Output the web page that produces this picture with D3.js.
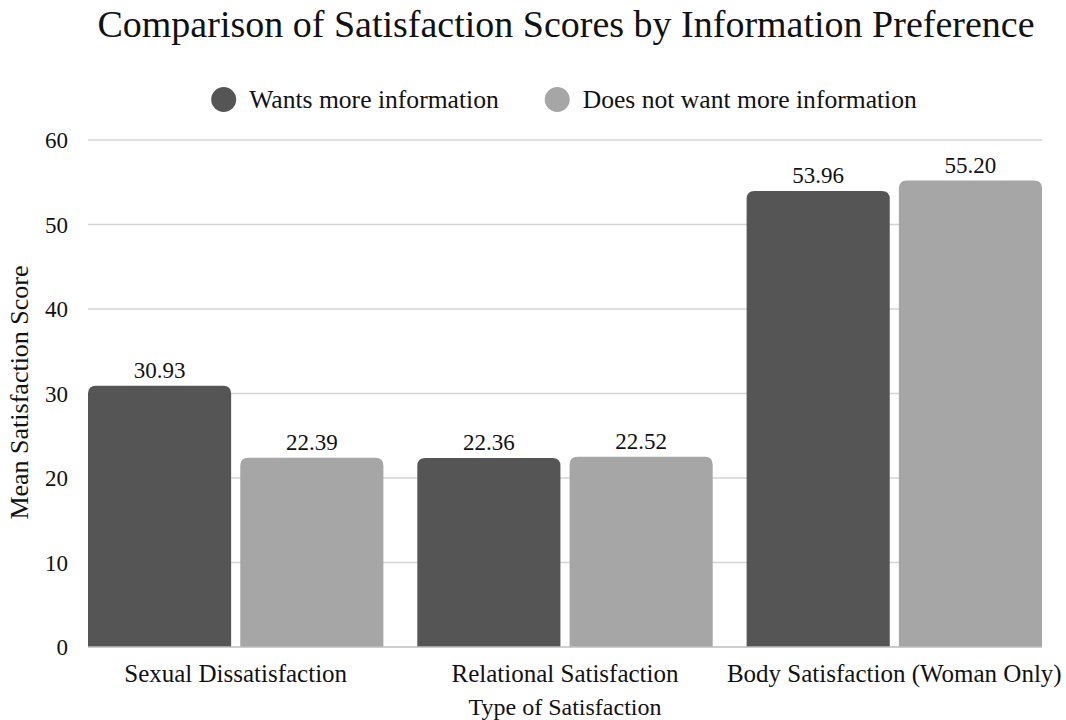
<!DOCTYPE html>
<html>
<head>
<meta charset="utf-8">
<script src="https://cdn.jsdelivr.net/npm/d3@7"></script>
<style>
  html, body { margin: 0; padding: 0; background: #fff; }
</style>
</head>
<body>
<svg id="chart" width="1066" height="720"></svg>
<script>
const categories = ["Sexual Dissatisfaction", "Relational Satisfaction", "Body Satisfaction (Woman Only)"];
const seriesNames = ["Wants more information", "Does not want more information"];
const wantsMore = [30.93, 22.36, 53.96];
const doesNotWant = [22.39, 22.52, 55.20];
const yTicks = [0, 10, 20, 30, 40, 50, 60];
const colors = ["#555555", "#a6a6a6"];

const FAMILY = '"Liberation Serif", monospace';

// text measurement (also makes sure the serif face is resolved before drawing)
const ctx = document.createElement("canvas").getContext("2d");
function textWidth(str, size) {
  ctx.font = `${size}px ${FAMILY}`;
  return ctx.measureText(str).width;
}

const svg = d3.select("#chart");
const plot = { left: 88, right: 1042, top: 140, bottom: 647 };

const x0 = d3.scaleBand().domain(categories).range([plot.left, plot.right])
  .paddingInner(0.103).paddingOuter(0);
const x1 = d3.scaleBand().domain(seriesNames).range([0, x0.bandwidth()]).paddingInner(0.06);
const y = d3.scaleLinear().domain([0, 60]).range([plot.bottom, plot.top]);

function label(sel, size) {
  return sel.style("font-family", FAMILY).attr("font-size", size).attr("fill", "#111");
}

// horizontal gridlines
svg.append("g").selectAll("line").data(yTicks.filter(d => d > 0)).join("line")
  .attr("x1", plot.left).attr("x2", plot.right)
  .attr("y1", d => y(d)).attr("y2", d => y(d))
  .attr("stroke", "#d4d4d4").attr("stroke-width", 1.3);

// y tick labels
svg.append("g").selectAll("text").data(yTicks).join("text")
  .call(label, 23)
  .attr("x", 68).attr("y", d => y(d) + 8)
  .attr("text-anchor", "end").text(d => d);

const rows = categories.map((c, i) => ({ cat: c, values: [wantsMore[i], doesNotWant[i]] }));
const r = 8;
function topRounded(x, yTop, w, yBase) {
  const h = yBase - yTop;
  const rr = Math.min(r, h / 2, w / 2);
  return `M${x},${yBase}V${yTop + rr}Q${x},${yTop} ${x + rr},${yTop}H${x + w - rr}Q${x + w},${yTop} ${x + w},${yTop + rr}V${yBase}Z`;
}

const groups = svg.append("g").selectAll("g").data(rows).join("g")
  .attr("transform", d => `translate(${x0(d.cat)},0)`);

groups.selectAll("path").data(d => d.values.map((v, j) => ({ v, s: seriesNames[j], j }))).join("path")
  .attr("d", d => topRounded(x1(d.s), y(d.v), x1.bandwidth(), y(0)))
  .attr("fill", d => colors[d.j]);

// value labels above each bar
groups.selectAll("text").data(d => d.values.map((v, j) => ({ v, s: seriesNames[j] }))).join("text")
  .call(label, 23)
  .attr("x", d => x1(d.s) + x1.bandwidth() / 2).attr("y", d => y(d.v) - 8)
  .attr("text-anchor", "middle").text(d => d.v.toFixed(2));

// baseline
svg.append("line").attr("x1", plot.left).attr("x2", plot.right)
  .attr("y1", y(0)).attr("y2", y(0)).attr("stroke", "#bdbdbd").attr("stroke-width", 1.5);

// category labels
svg.append("g").selectAll("text").data(categories).join("text")
  .call(label, 25)
  .attr("x", d => x0(d) + x0.bandwidth() / 2).attr("y", 682)
  .attr("text-anchor", "middle").text(d => d);

// axis titles
svg.append("text").call(label, 24)
  .attr("x", (plot.left + plot.right) / 2).attr("y", 715)
  .attr("text-anchor", "middle").text("Type of Satisfaction");
svg.append("text").call(label, 26)
  .attr("transform", `translate(28,${(plot.top + plot.bottom) / 2 - 1}) rotate(-90)`)
  .attr("text-anchor", "middle").text("Mean Satisfaction Score");

// title
svg.append("text").call(label, 38)
  .attr("x", 566).attr("y", 37).attr("text-anchor", "middle")
  .text("Comparison of Satisfaction Scores by Information Preference");

// legend, laid out from measured label widths and centred over the plot
const legendSize = 25.6, dotR = 12.5, dotGap = 13, itemGap = 46;
const items = seriesNames.map((name, i) => ({ name, i, w: textWidth(name, legendSize) }));
const legendWidth = d3.sum(items, d => 2 * dotR + dotGap + d.w) + itemGap * (items.length - 1);
let cursor = (plot.left + plot.right) / 2 - 1 - legendWidth / 2;
const legend = svg.append("g");
items.forEach(it => {
  legend.append("circle").attr("cx", cursor + dotR).attr("cy", 99.5).attr("r", dotR).attr("fill", colors[it.i]);
  legend.append("text").call(label, legendSize).attr("x", cursor + 2 * dotR + dotGap).attr("y", 107.5).text(it.name);
  cursor += 2 * dotR + dotGap + it.w + itemGap;
});
</script>
</body>
</html>
